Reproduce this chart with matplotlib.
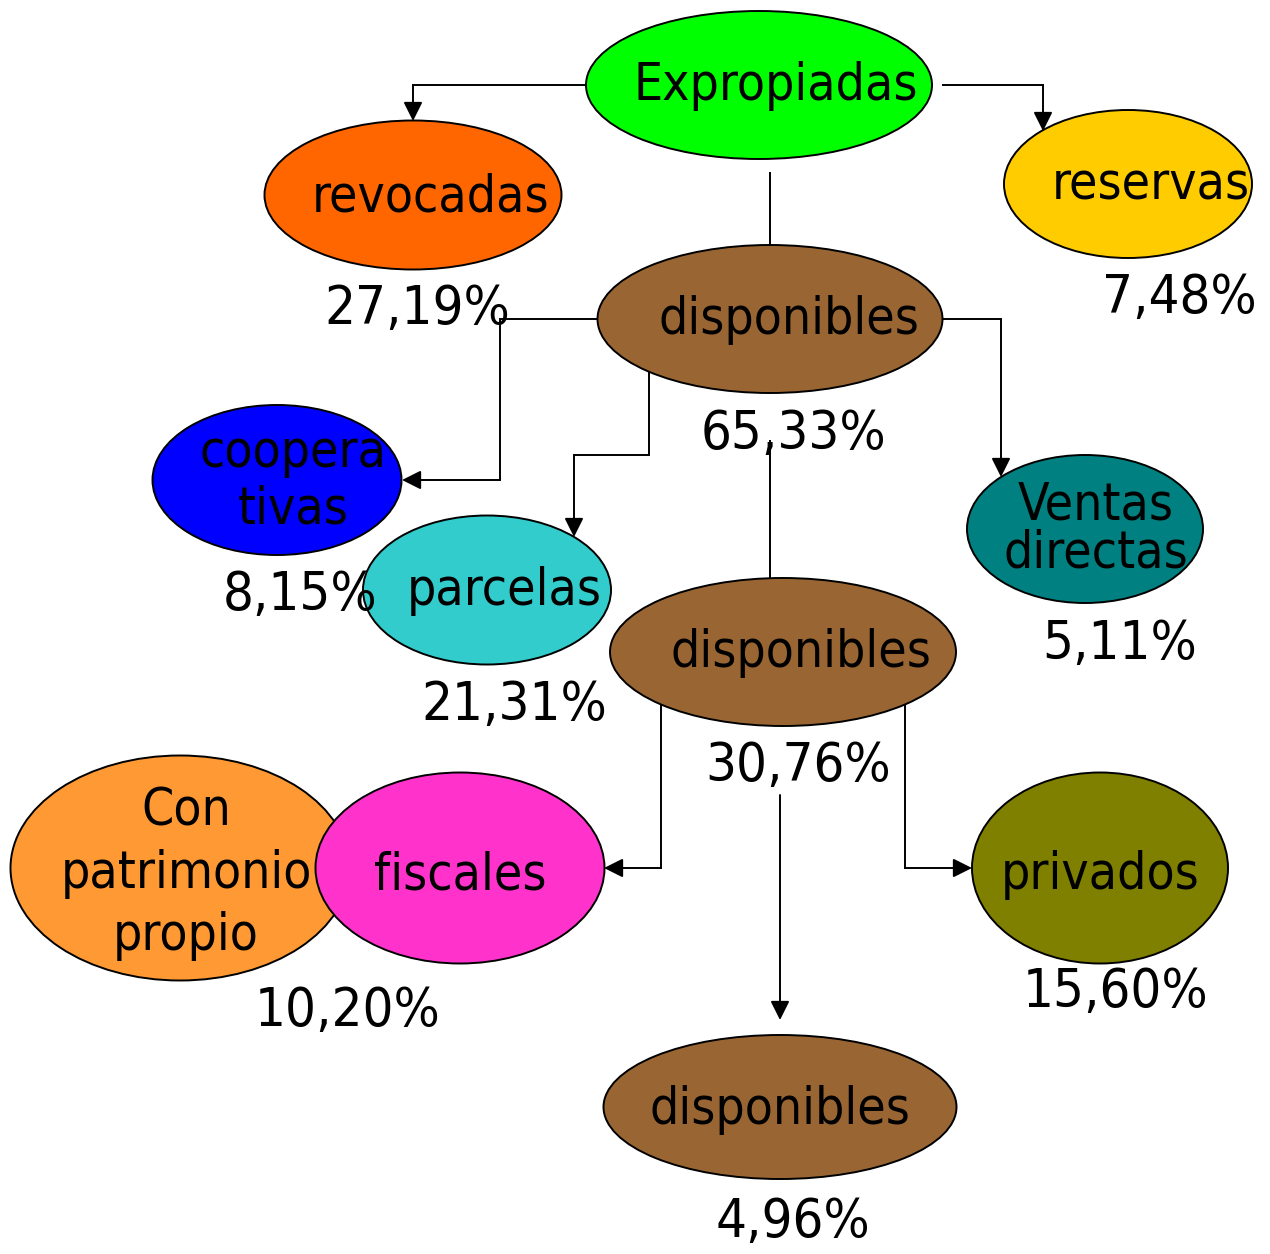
import matplotlib
matplotlib.use("Agg")
import matplotlib.pyplot as plt
from matplotlib.patches import Ellipse, FancyArrowPatch

# ---- data ----
node_labels = ["Expropiadas", "revocadas", "reservas", "disponibles", "coopera\ntivas",
               "parcelas", "Ventas\ndirectas", "disponibles", "Con\npatrimonio\npropio",
               "fiscales", "privados", "disponibles"]
node_pcts = [None, "27,19%", "7,48%", "65,33%", "8,15%", "21,31%", "5,11%",
             "30,76%", None, "10,20%", "15,60%", "4,96%"]
node_colors = ["#00FF00", "#FF6600", "#FFCC00", "#996633", "#0000FF", "#33CCCC",
               "#008080", "#996633", "#FF9933", "#FF33CC", "#808000", "#996633"]

# ---- layout (pixel space) ----
ell = [  # cx, cy, w, h
    (759, 85, 346, 148), (413, 195, 297, 149), (1128, 184, 248, 148),
    (770, 319, 345, 148), (277, 480, 249, 150), (487, 590, 248, 149),
    (1085, 529, 236, 148), (783, 652, 346, 148), (180, 868, 339, 225),
    (460, 868, 289, 191), (1100, 868, 256, 191), (780, 1107, 353, 144),
]
label_pos = [  # x center, baseline of first line, line spacing
    (776, 100, 0), (431, 211, 0), (1151, 199, 0), (789, 334, 0),
    (293, 467, 57), (504, 605, 0), (1096, 520, 48), (801, 667, 0),
    (186, 826, 62), (460, 889, 0), (1100, 889, 0), (780, 1124, 0),
]
pct_pos = [None, (417, 324), (1179, 313), (793, 449), (300, 610), (514, 720),
           (1120, 659), (798, 781), None, (348, 1026), (1115, 1007), (793, 1237)]

plain_lines = [[(770, 172), (770, 245)], [(770, 440), (770, 578)]]
arrow_lines = [
    [(586, 85), (413, 85), (413, 121)],
    [(943, 85), (1043, 85), (1043, 131)],
    [(598, 319), (500, 319), (500, 480), (402, 480)],
    [(649, 372), (649, 455), (574, 455), (574, 537)],
    [(943, 319), (1001, 319), (1001, 477)],
    [(661, 705), (661, 868), (604, 868)],
    [(905, 705), (905, 868), (972, 868)],
    [(780, 795), (780, 1020)],
]

FS = 37
FS_PCT = 39
FONT = dict(family="DejaVu Sans", fontstretch="condensed")

fig = plt.figure(figsize=(12.70, 12.54), dpi=100)
ax = fig.add_axes([0, 0, 1, 1])
ax.set_xlim(0, 1270)
ax.set_ylim(1254, 0)
ax.axis("off")

for i, (cx, cy, w, h) in enumerate(ell):
    ax.add_patch(Ellipse((cx, cy), w, h, facecolor=node_colors[i], edgecolor="black",
                         lw=1.4, zorder=2 + i * 0.01))

for i, lab in enumerate(node_labels):
    x, y, sp = label_pos[i]
    for k, line in enumerate(lab.split("\n")):
        ax.text(x, y + k * sp, line, ha="center", va="baseline", fontsize=FS,
                color="black", zorder=5, **FONT)

for i, p in enumerate(node_pcts):
    if p is None:
        continue
    x, y = pct_pos[i]
    ax.text(x, y, p, ha="center", va="baseline", fontsize=FS_PCT, color="black",
            zorder=5, **FONT)

for pts in plain_lines:
    ax.plot([p[0] for p in pts], [p[1] for p in pts], color="black", lw=1.4,
            solid_capstyle="butt", zorder=1)

for pts in arrow_lines:
    if len(pts) > 2:
        ax.plot([p[0] for p in pts[:-1]], [p[1] for p in pts[:-1]], color="black",
                lw=1.4, solid_joinstyle="miter", zorder=1)
    a = FancyArrowPatch(pts[-2], pts[-1], arrowstyle="-|>,head_length=0.72,head_width=0.36",
                        mutation_scale=16, lw=1.4, color="black", shrinkA=0, shrinkB=0,
                        zorder=3)
    ax.add_patch(a)

fig.savefig("out.png", dpi=100)
